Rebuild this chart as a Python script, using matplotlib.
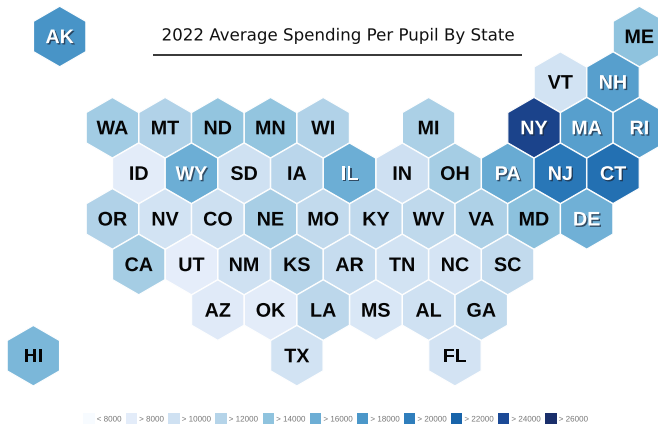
import matplotlib
matplotlib.use("Agg")
import matplotlib.pyplot as plt
import matplotlib.patheffects as pe
from matplotlib.colors import LinearSegmentedColormap
from matplotlib.patches import RegularPolygon, Rectangle

# state, value (estimates)
states = ["AK", "ME", "VT", "NH",
          "WA", "MT", "ND", "MN", "WI", "MI", "NY", "MA", "RI",
          "ID", "WY", "SD", "IA", "IL", "IN", "OH", "PA", "NJ", "CT",
          "OR", "NV", "CO", "NE", "MO", "KY", "WV", "VA", "MD", "DE",
          "CA", "UT", "NM", "KS", "AR", "TN", "NC", "SC",
          "AZ", "OK", "LA", "MS", "AL", "GA",
          "HI", "TX", "FL"]
spending = [18200, 14000, 9700, 17300,
            13000, 12200, 13800, 13800, 12200, 12500, 24500, 17300, 17300,
            8000, 16000, 10000, 11700, 16000, 10100, 12800, 16300, 20500, 21000,
            12200, 9700, 10200, 12700, 11000, 11200, 11300, 12400, 14200, 15800,
            12800, 7800, 10000, 12000, 10700, 9700, 9400, 11000,
            8300, 8100, 11500, 9000, 10000, 11100,
            15200, 9700, 9600]

# hex grid position of each state: half-column, row
grid_col = [0, 22, 19, 21,
            2, 4, 6, 8, 10, 14, 18, 20, 22,
            3, 5, 7, 9, 11, 13, 15, 17, 19, 21,
            2, 4, 6, 8, 10, 12, 14, 16, 18, 20,
            3, 5, 7, 9, 11, 13, 15, 17,
            6, 8, 10, 12, 14, 16,
            -1, 9, 15]
grid_row = [0, 0, 1, 1,
            2, 2, 2, 2, 2, 2, 2, 2, 2,
            3, 3, 3, 3, 3, 3, 3, 3, 3, 3,
            4, 4, 4, 4, 4, 4, 4, 4, 4, 4,
            5, 5, 5, 5, 5, 5, 5, 5,
            6, 6, 6, 6, 6, 6,
            7, 7, 7]
white_labels = ["AK", "NH", "NY", "MA", "RI", "WY", "IL", "PA", "NJ", "CT", "DE"]

legend_labels = ["< 8000", "> 8000", "> 10000", "> 12000", "> 14000", "> 16000",
                 "> 18000", "> 20000", "> 22000", "> 24000", "> 26000"]
legend_bounds = [6000, 8000, 10000, 12000, 14000, 16000, 18000, 20000, 22000, 24000, 26000]
legend_colors = ["#f7fbff", "#e3ecf9", "#cfe1f2", "#b5d4e9", "#8fc3de", "#6daed5",
                 "#4b97c9", "#2f7ebc", "#1864aa", "#1c4a96", "#1a2f6b"]

cmap = LinearSegmentedColormap.from_list(
    "spend", [((b - 6000) / 20000, c) for b, c in zip(legend_bounds, legend_colors)])

fig = plt.figure(figsize=(6.58, 4.27), dpi=100)
ax = fig.add_axes([0, 0, 1, 1])
ax.set_xlim(0, 658)
ax.set_ylim(427, 0)
ax.axis("off")

# hexes
step_x = 26.35
step_y = 45.6
for st, val, c, r in zip(states, spending, grid_col, grid_row):
    x = 59.7 + c * step_x
    y = 37.5 + r * step_y
    ax.add_patch(RegularPolygon((x, y), 6, radius=30.2, facecolor=cmap((val - 6000) / 20000),
                                edgecolor="white", linewidth=0.8))
    # path effects draw the glyphs as paths, so labels stay level and spaced evenly
    if st in white_labels:
        t = ax.text(x, y + 6.6, st, ha="center", va="baseline", color="white", fontsize=14.2,
                    fontweight="bold", family="Liberation Sans")
        t.set_path_effects([pe.withSimplePatchShadow(offset=(1.0, -1.0), shadow_rgbFace="#1c2b40", alpha=0.75)])
    else:
        t = ax.text(x, y + 6.6, st, ha="center", va="baseline", color="#050505", fontsize=14.2,
                    fontweight="bold", family="Liberation Sans")
        t.set_path_effects([pe.Normal()])

# title
t = ax.text(337.5, 41.5, "2022 Average Spending Per Pupil By State", ha="center", va="baseline",
            fontsize=12.0, color="#111111", family="DejaVu Sans")
t.set_path_effects([pe.Normal()])
ax.plot([153, 522], [56.3, 56.3], color="black", linewidth=1.1, solid_capstyle="butt")

# legend
swatch_x = [83.3, 125.7, 168.3, 215.3, 262.7, 310, 357, 404, 451, 498, 545.3]
for lx, lab, col in zip(swatch_x, legend_labels, legend_colors):
    ax.add_patch(Rectangle((lx, 414), 11.3, 11, facecolor=col, edgecolor="none"))
    t = ax.text(lx + 13.4, 422.5, lab, ha="left", va="baseline", fontsize=5.8,
                color="#777777", family="Liberation Sans")
    t.set_path_effects([pe.Normal()])

fig.savefig("out.png", dpi=100)
